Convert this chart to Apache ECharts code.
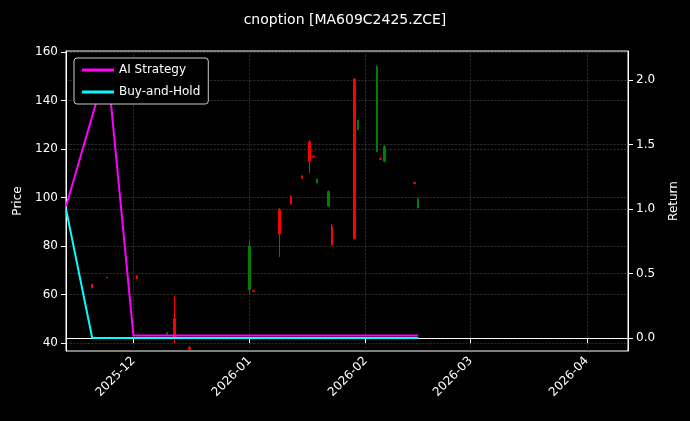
<!DOCTYPE html>
<html><head><meta charset="utf-8">
<script src="https://cdn.jsdelivr.net/npm/echarts@6/dist/echarts.min.js"></script>
<style>html,body{margin:0;background:#000}#c{width:690px;height:421px}</style>
</head><body><div id="c"></div>
<script>
// candle: [date, open, close, low, high]
const candleDates = ['2025-11-20','2025-11-24','2025-12-02','2025-12-10','2025-12-12','2025-12-16','2026-01-01','2026-01-02','2026-01-09','2026-01-12','2026-01-15','2026-01-17','2026-01-18','2026-01-19','2026-01-22','2026-01-23','2026-01-29','2026-01-30','2026-02-04','2026-02-05','2026-02-06','2026-02-14','2026-02-15'];
const opens  = [62.8, 66.8, 66.5, 44.2, 42, 37.4, 80, 61.2, 85, 97.5, 108, 115, 116.8, 107.5, 102.5, 80.5, 83, 132, 154, 115.8, 121, 105.8, 99.5];
const closes = [64.2, 67.2, 67.8, 43.6, 50, 38.2, 62, 61.6, 95, 100.5, 109, 123, 117.2, 106, 96.5, 88, 149, 128, 119, 116.2, 115, 106.2, 95.7];
const lows   = [62.5, 66.8, 66.5, 43.4, 40, 37, 60, 61.2, 75.5, 97, 108, 110, 116.8, 106, 96.5, 80, 83, 128, 118.8, 115.8, 114.6, 105.8, 95.7];
const highs  = [64.5, 67.2, 67.8, 44.4, 59.4, 39, 82.5, 61.6, 95.7, 101, 109, 123.7, 117.2, 108, 103, 89, 149, 132, 154.6, 116.2, 121.6, 106.2, 100];
const aiDates = ['2025-11-13','2025-11-24','2025-12-01','2026-02-15'];
const aiVals  = [1.02, 2.12, 0.02, 0.02];
const bhDates = ['2025-11-13','2025-11-20','2026-02-15'];
const bhVals  = [1.0, 0.0, 0.0];
const monthTicks = ['2025-12-01','2026-01-01','2026-02-01','2026-03-01','2026-04-01'];
const priceTicks = [40,60,80,100,120,140,160];
const returnTicks = [0,0.5,1,1.5,2];

const ts = s => new Date(s+'T00:00:00Z').getTime();
const candleData = candleDates.map((d,i)=>[ts(d), opens[i], closes[i], lows[i], highs[i]]);
const chart = echarts.init(document.getElementById('c'));
const grid = {lineStyle:{color:'#444',type:'dashed',width:0.6}};
const mt = monthTicks.map(ts);
const font = {color:'#fff',fontSize:12,fontFamily:'DejaVu Sans'};
chart.setOption({
  backgroundColor:'#000',
  animation:false,
  title:{text:'cnoption [MA609C2425.ZCE]',left:'center',top:8,textStyle:{color:'#fff',fontSize:14,fontWeight:'normal',fontFamily:'DejaVu Sans'}},
  legend:{left:74,top:58,orient:'vertical',itemWidth:32,itemHeight:3,itemGap:10,backgroundColor:'#000',borderColor:'#ccc',borderWidth:1,borderRadius:3,padding:[6,8],
    textStyle:font,icon:'rect',data:['AI Strategy','Buy-and-Hold']},
  grid:{left:66,right:62,top:51,bottom:70,show:true,borderColor:'#fff',borderWidth:1},
  xAxis:{type:'value',min:ts('2025-11-13'),max:ts('2026-04-12'),
    axisLine:{lineStyle:{color:'#fff'}},axisTick:{show:true,customValues:mt},
    splitLine:{show:true,...grid},
    axisLabel:{...font,rotate:45,customValues:mt,
      formatter:v=>{const d=new Date(v);return d.getUTCFullYear()+'-'+String(d.getUTCMonth()+1).padStart(2,'0');}}},
  yAxis:[
    {type:'value',name:'Price',nameLocation:'middle',nameGap:38,nameTextStyle:font,
     min:36.7,max:160.5,axisLine:{show:true,lineStyle:{color:'#fff'}},
     axisLabel:{...font,customValues:priceTicks},
     axisTick:{show:true,customValues:priceTicks},
     splitLine:{show:true,...grid}},
    {type:'value',name:'Return',nameLocation:'middle',nameGap:40,nameTextStyle:font,
     min:-0.1,max:2.225,axisLine:{show:true,lineStyle:{color:'#fff'}},
     axisTick:{show:true,customValues:returnTicks},
     axisLabel:{...font,customValues:returnTicks,formatter:v=>v.toFixed(1)},
     splitLine:{show:true,...grid}}
  ],
  series:[
    {type:'candlestick',data:candleData,barWidth:2,yAxisIndex:0,
     itemStyle:{color:'#ff0000',color0:'#008000',borderColor:'#ff0000',borderColor0:'#008000',borderWidth:1}},
    {name:'AI Strategy',type:'line',yAxisIndex:1,data:aiDates.map((d,i)=>[ts(d),aiVals[i]]),symbol:'none',lineStyle:{color:'#ff00ff',width:2},itemStyle:{color:'#ff00ff'}},
    {name:'Buy-and-Hold',type:'line',yAxisIndex:1,data:bhDates.map((d,i)=>[ts(d),bhVals[i]]),symbol:'none',lineStyle:{color:'#00ffff',width:2},itemStyle:{color:'#00ffff'}}
  ]
});
</script></body></html>
